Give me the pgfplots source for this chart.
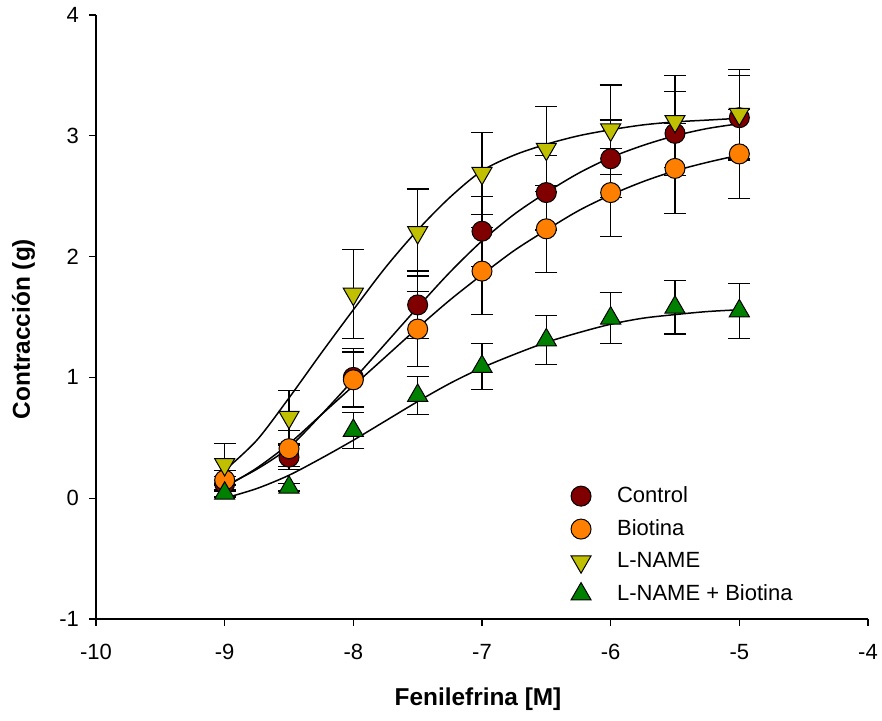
\documentclass[border=0pt]{standalone}
\usepackage{pgfplots}
\pgfplotsset{compat=1.18}
\usepackage{fontspec}
\setmainfont{Liberation Sans}
\definecolor{cctrl}{RGB}{128,0,0}
\definecolor{cbio}{RGB}{255,128,0}
\definecolor{clname}{RGB}{192,192,0}
\definecolor{clnb}{RGB}{0,128,0}
\pgfplotstableread{
x y e
-9 0.12 0.06
-8.5 0.34 0.10
-8 1.00 0.24
-7.5 1.60 0.28
-7 2.21 0.29
-6.5 2.53 0.31
-6 2.81 0.32
-5.5 3.02 0.35
-5 3.15 0.35
}\ctrl
\pgfplotstableread{
x y e
-9 0.15 0.08
-8.5 0.41 0.15
-8 0.98 0.23
-7.5 1.40 0.31
-7 1.88 0.36
-6.5 2.23 0.36
-6 2.53 0.365
-5.5 2.73 0.37
-5 2.85 0.37
}\bio
\pgfplotstableread{
x y e
-9 0.28 0.17
-8.5 0.67 0.22
-8 1.69 0.37
-7.5 2.20 0.36
-7 2.69 0.34
-6.5 2.89 0.35
-6 3.05 0.37
-5.5 3.12 0.38
-5 3.18 0.37
}\lname
\pgfplotstableread{
x y e
-9 0.04 0.03
-8.5 0.09 0.03
-8 0.56 0.15
-7.5 0.85 0.16
-7 1.09 0.19
-6.5 1.31 0.20
-6 1.49 0.21
-5.5 1.58 0.22
-5 1.55 0.23
}\lnb
\begin{document}
\begin{tikzpicture}
\begin{axis}[
  name=ax,
  scale only axis,
  width=386pt, height=302pt,
  xmin=-10, xmax=-4, ymin=-1, ymax=4,
  xtick={-10,-9,...,-4}, ytick={-1,0,...,4},
  axis x line*=bottom, axis y line*=left,
  axis line style={line width=0.6pt, -},
  tick style={line width=0.6pt, black},
  tick align=outside,
  major tick length=3.5pt,
  /pgf/number format/assume math mode=true,
  ticklabel style={font=\fontsize{11}{13}\selectfont},
  xticklabel style={yshift=-5.5pt},
  yticklabel style={xshift=-1.5pt},
  xlabel={\textbf{Fenilefrina [M]}},
  ylabel={\textbf{Contracción (g)}},
  label style={font=\fontsize{12.2}{14}\selectfont},
  xlabel style={at={(axis description cs:0.5,0)}, anchor=north, yshift=-31pt, xshift=-2pt},
  ylabel style={at={(axis description cs:0,0.48)}, anchor=south, yshift=27pt},
  legend style={draw=none, fill=none, font=\fontsize{11}{13}\selectfont,
    at={(rel axis cs:0.607,0.233)}, anchor=north west,
    /tikz/every odd column/.append style={column sep=11pt},
    row sep=3pt},
  legend cell align=left,
  error bars/y dir=both, error bars/y explicit,
  error bars/error mark options={rotate=90, mark size=5.5pt, line width=0.6pt, black},
  error bars/error bar style={line width=0.6pt, black},
]
\addplot[only marks, mark=*, mark size=5pt, mark options={fill=cctrl, draw=black, line width=0.5pt}]
  table[x=x, y=y, y error=e]{\ctrl};
\addlegendentry{Control}
\addplot[only marks, mark=*, mark size=5pt, mark options={fill=cbio, draw=black, line width=0.5pt}]
  table[x=x, y=y, y error=e]{\bio};
\addlegendentry{Biotina}
\addplot[only marks, mark=triangle*, mark size=5.8pt, mark options={fill=clname, draw=black, line width=0.5pt, rotate=180}]
  table[x=x, y=y, y error=e]{\lname};
\addlegendentry{L-NAME}
\addplot[only marks, mark=triangle*, mark size=5.8pt, mark options={fill=clnb, draw=black, line width=0.5pt}]
  table[x=x, y=y, y error=e]{\lnb};
\addlegendentry{L-NAME + Biotina}
% fitted curves
\addplot[black, line width=0.75pt, smooth, no marks, forget plot] coordinates {
(-9,0.10) (-8.75,0.24) (-8.5,0.42) (-8.25,0.69) (-8,0.98) (-7.75,1.28) (-7.5,1.58) (-7.25,1.87) (-7,2.13) (-6.75,2.35) (-6.5,2.53) (-6.25,2.69) (-6,2.82) (-5.75,2.92) (-5.5,3.00) (-5.25,3.06) (-5,3.10)};
\addplot[black, line width=0.75pt, smooth, no marks, forget plot] coordinates {
(-9,0.09) (-8.75,0.25) (-8.5,0.45) (-8.25,0.69) (-8,0.93) (-7.75,1.17) (-7.5,1.41) (-7.25,1.64) (-7,1.85) (-6.75,2.05) (-6.5,2.22) (-6.25,2.38) (-6,2.51) (-5.75,2.62) (-5.5,2.71) (-5.25,2.78) (-5,2.84)};
\addplot[black, line width=0.75pt, smooth, no marks, forget plot] coordinates {
(-9,0.23) (-8.75,0.48) (-8.5,0.83) (-8.25,1.20) (-8,1.56) (-7.75,1.91) (-7.5,2.22) (-7.25,2.49) (-7,2.71) (-6.75,2.84) (-6.5,2.93) (-6.25,3.00) (-6,3.05) (-5.75,3.09) (-5.5,3.115) (-5.25,3.13) (-5,3.145)};
\addplot[black, line width=0.75pt, smooth, no marks, forget plot] coordinates {
(-9,0.0) (-8.75,0.08) (-8.5,0.19) (-8.25,0.33) (-8,0.48) (-7.75,0.64) (-7.5,0.80) (-7.25,0.95) (-7,1.08) (-6.75,1.19) (-6.5,1.29) (-6.25,1.37) (-6,1.44) (-5.75,1.49) (-5.5,1.52) (-5.25,1.545) (-5,1.56)};
\end{axis}
\pgfresetboundingbox
\path[use as bounding box] ([xshift=-48pt,yshift=-51pt]ax.south west) rectangle ([xshift=7pt,yshift=7.5pt]ax.north east);
\end{tikzpicture}
\end{document}
